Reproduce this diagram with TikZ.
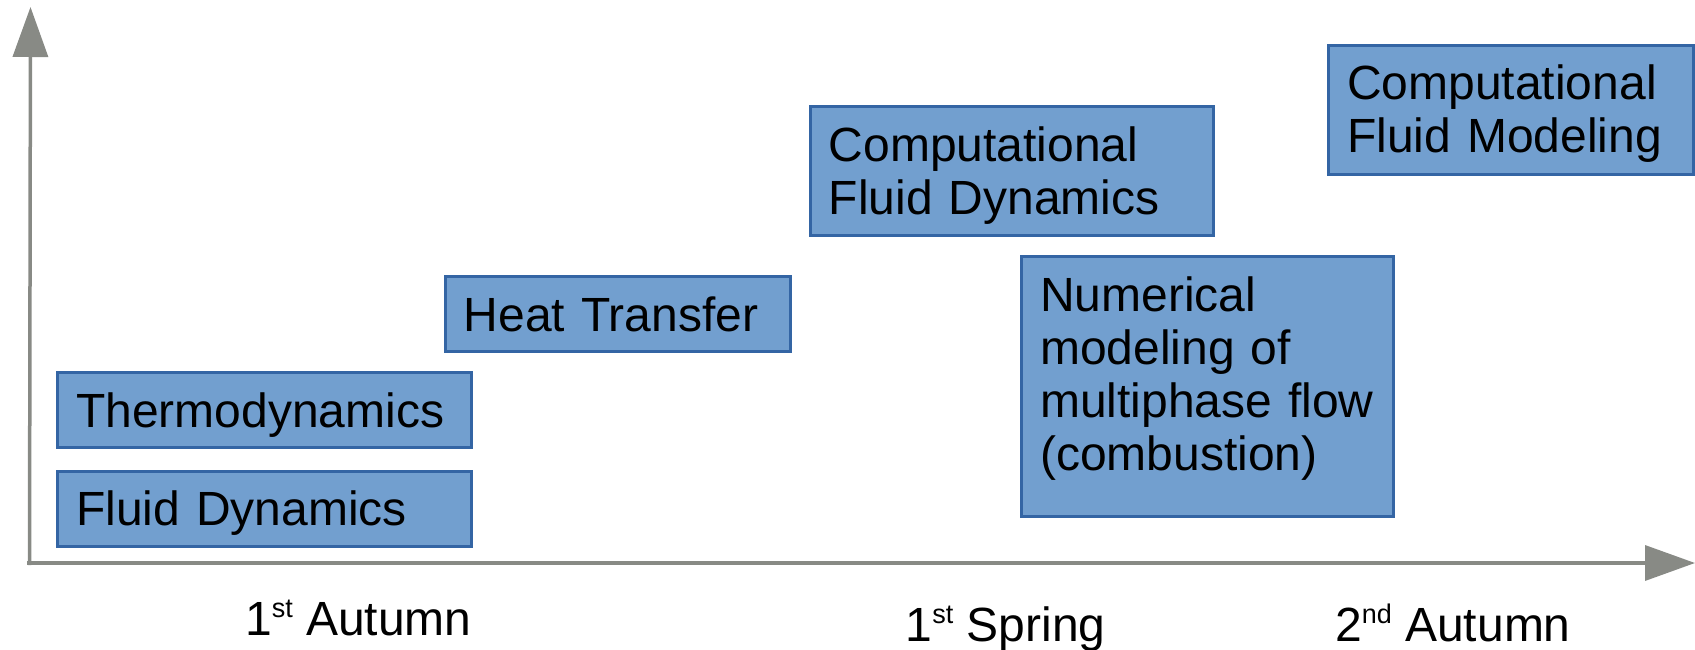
\documentclass[tikz,border=0pt]{standalone}
\usepackage{fontspec}
\setmainfont{Liberation Sans}
\usetikzlibrary{arrows.meta}
\definecolor{boxfill}{HTML}{729FCF}
\definecolor{boxline}{HTML}{3465A4}
\definecolor{axisgray}{HTML}{888A85}
% small raised ordinal suffix (st, nd)
\newcommand{\ordmark}[1]{\raisebox{17.5pt}{\fontsize{27}{27}\selectfont #1}}
\begin{document}
\begin{tikzpicture}[x=1pt,y=-1pt,
  course/.style={draw=boxline, fill=boxfill, line width=3pt, inner sep=0pt, anchor=north west},
  coursetext/.style={anchor=base west, inner sep=0pt, text width=360pt, align=left,
    font=\fontsize{48}{53}\selectfont},
  axis/.style={draw=axisgray, line width=3.5pt, -{Triangle[length=50pt,width=35pt]}},
  season/.style={anchor=base west, inner sep=0pt, font=\fontsize{48}{53}\selectfont}]
\useasboundingbox (0,0) rectangle (1695,650);

% axes
\coordinate (origin) at (29.5,565);
\coordinate (ytip) at (30.5,7);
\coordinate (xstart) at (27,563);
\coordinate (xtip) at (1695,563);
\draw[axis] (origin) -- (ytip);
\draw[axis] (xstart) -- (xtip);

% course boxes
\node[course, minimum width=414pt, minimum height=75pt] (fd) at (56,469.5) {};
\node[course, minimum width=414pt, minimum height=75pt] (th) at (56,371) {};
\node[course, minimum width=345pt, minimum height=75pt] (ht) at (443.5,275) {};
\node[course, minimum width=403pt, minimum height=129pt] (cfd) at (808.5,105) {};
\node[course, minimum width=372pt, minimum height=260pt] (num) at (1020,255) {};
\node[course, minimum width=365pt, minimum height=129pt] (cfm) at (1327,44) {};

% course titles
\node[coursetext] (fdt) at ([shift={(20pt,-56pt)}]fd.north west) {Fluid Dynamics};
\node[coursetext] (tht) at ([shift={(20pt,-56pt)}]th.north west) {Thermodynamics};
\node[coursetext] (htt) at ([shift={(20pt,-56pt)}]ht.north west) {Heat Transfer};
\node[coursetext] (cfdt) at ([shift={(20pt,-56pt)}]cfd.north west) {Computational\\Fluid Dynamics};
\node[coursetext] (numt) at ([shift={(20pt,-56pt)}]num.north west) {Numerical\\modeling of\\multiphase flow\\(combustion)};
\node[coursetext] (cfmt) at ([shift={(20pt,-56pt)}]cfm.north west) {Computational\\Fluid Modeling};

% semesters on the time axis
\node[season] (s1) at (245,635) {1\ordmark{st} Autumn};
\node[season] (s2) at (905.5,641) {1\ordmark{st} Spring};
\node[season] (s3) at (1335,641) {2\ordmark{nd} Autumn};
\end{tikzpicture}
\end{document}
